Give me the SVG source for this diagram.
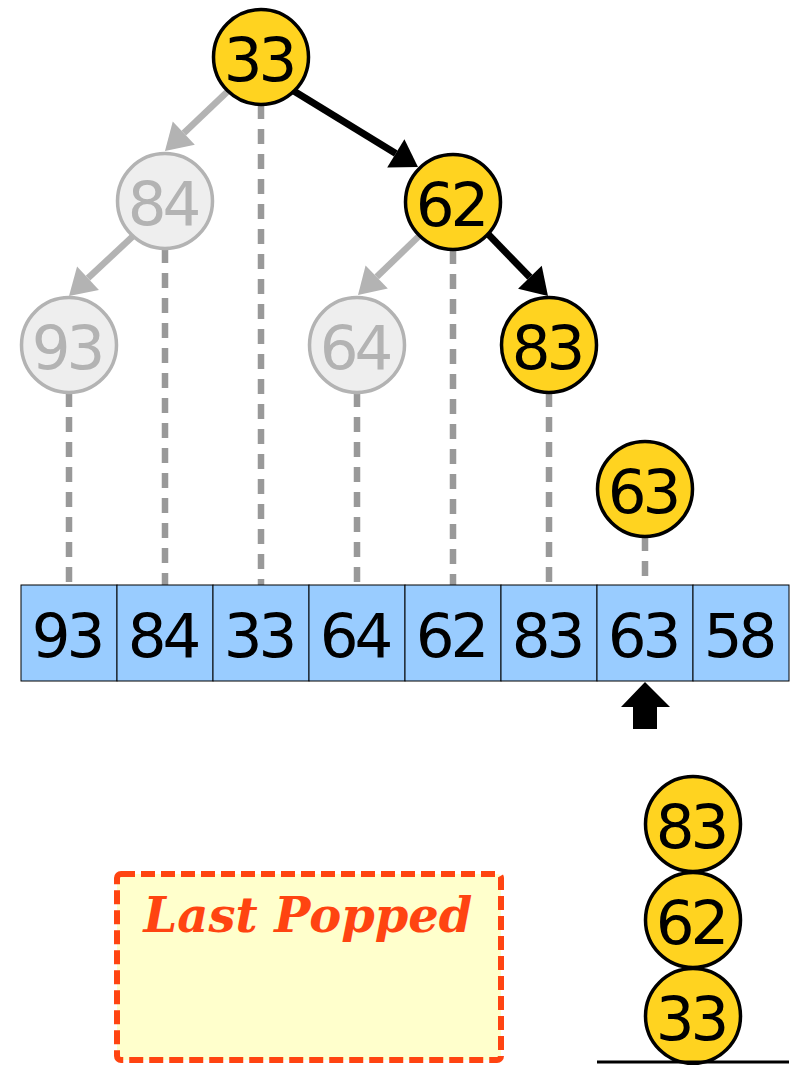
<svg xmlns="http://www.w3.org/2000/svg" width="799" height="1065" viewBox="0 0 799 1065">
<style>
.num{font-family:"DejaVu Sans",Verdana,sans-serif;font-size:61px;text-anchor:middle;letter-spacing:-4px}
.yel circle{fill:#ffd320;stroke:#000;stroke-width:3.5}
.yel text{fill:#000}
.gry circle{fill:#eeeeee;stroke:#b3b3b3;stroke-width:3.5}
.gry text{fill:#b3b3b3}
.cell rect{fill:#99ccff;stroke:#000;stroke-width:1}
.cell text{fill:#000}
.dash{stroke:#999999;stroke-width:6.5;stroke-dasharray:15 10;fill:none}
.ga{stroke:#b3b3b3;stroke-width:6.5;fill:none;marker-end:url(#ahg)}
.ba{stroke:#000;stroke-width:7;fill:none;marker-end:url(#ahb)}
</style>
<defs>
<marker id="ahg" markerUnits="userSpaceOnUse" viewBox="0 -16 26 32" refX="0" refY="0" markerWidth="26" markerHeight="32" orient="auto" overflow="visible">
<path d="M0,-16 L26,0 L0,16 z" fill="#b3b3b3"/>
</marker>
<marker id="ahb" markerUnits="userSpaceOnUse" viewBox="0 -16.5 26 33" refX="0" refY="0" markerWidth="26" markerHeight="33" orient="auto" overflow="visible">
<path d="M0,-16.5 L26,0 L0,16.5 z" fill="#000"/>
</marker>
</defs>
<rect width="799" height="1065" fill="#fff"/>
<g id="connectors">
<line class="dash" x1="69" y1="342" x2="69" y2="600"/>
<line class="dash" x1="165" y1="198" x2="165" y2="600"/>
<line class="dash" x1="261" y1="54" x2="261" y2="600"/>
<line class="dash" x1="357" y1="342" x2="357" y2="600"/>
<line class="dash" x1="453" y1="199" x2="453" y2="600"/>
<line class="dash" x1="549" y1="342" x2="549" y2="600"/>
<line class="dash" x1="645" y1="486" x2="645" y2="600"/>
<line class="ga" x1="230.6" y1="88.6" x2="183.8" y2="133.1"/>
<line class="ga" x1="135.7" y1="233.6" x2="88" y2="278.2"/>
<line class="ga" x1="420.6" y1="234.5" x2="376.7" y2="276.9"/>
<line class="ba" x1="289.7" y1="88.4" x2="395.8" y2="153.4"/>
<line class="ba" x1="484.5" y1="230.4" x2="529.9" y2="277.3"/>
</g>
<g id="array">
<g id="cell0" class="cell"><rect x="21" y="585" width="96" height="96"/><text class="num" x="66.5" y="657">93</text></g>
<g id="cell1" class="cell"><rect x="117" y="585" width="96" height="96"/><text class="num" x="162.5" y="657">84</text></g>
<g id="cell2" class="cell"><rect x="213" y="585" width="96" height="96"/><text class="num" x="258.5" y="657">33</text></g>
<g id="cell3" class="cell"><rect x="309" y="585" width="96" height="96"/><text class="num" x="354.5" y="657">64</text></g>
<g id="cell4" class="cell"><rect x="405" y="585" width="96" height="96"/><text class="num" x="450.5" y="657">62</text></g>
<g id="cell5" class="cell"><rect x="501" y="585" width="96" height="96"/><text class="num" x="546.5" y="657">83</text></g>
<g id="cell6" class="cell"><rect x="597" y="585" width="96" height="96"/><text class="num" x="642.5" y="657">63</text></g>
<g id="cell7" class="cell"><rect x="693" y="585" width="96" height="96"/><text class="num" x="738.5" y="657">58</text></g>
</g>
<g id="n33" class="yel"><circle cx="261" cy="57" r="47.5"/><text class="num" x="258.5" y="81">33</text></g>
<g id="n84" class="gry"><circle cx="165" cy="201" r="47.5"/><text class="num" x="162.5" y="225">84</text></g>
<g id="n62" class="yel"><circle cx="453" cy="202" r="47.5"/><text class="num" x="450.5" y="226">62</text></g>
<g id="n93" class="gry"><circle cx="69" cy="345" r="47.5"/><text class="num" x="66.5" y="369">93</text></g>
<g id="n64" class="gry"><circle cx="357" cy="345" r="47.5"/><text class="num" x="354.5" y="369">64</text></g>
<g id="n83" class="yel"><circle cx="549" cy="345" r="47.5"/><text class="num" x="546.5" y="369">83</text></g>
<g id="n63" class="yel"><circle cx="645" cy="489" r="47.5"/><text class="num" x="642.5" y="513">63</text></g>
<g id="pointer"><polygon points="645,682 670,707 657,707 657,729 633,729 633,707 621,707" fill="#000"/></g>
<g id="last-popped">
<rect x="117" y="874" width="384" height="186" rx="4" fill="#ffffcc" stroke="#ff4411" stroke-width="6" stroke-dasharray="14 6"/>
<text x="308" y="932" font-family="DejaVu Serif,serif" font-weight="bold" font-style="italic" font-size="48" fill="#ff4411" text-anchor="middle">Last Popped</text>
</g>
<g id="stack">
<g id="s83" class="yel"><circle cx="693" cy="824" r="47.5"/><text class="num" x="690.5" y="848">83</text></g>
<g id="s62" class="yel"><circle cx="693" cy="920" r="47.5"/><text class="num" x="690.5" y="944">62</text></g>
<g id="s33" class="yel"><circle cx="693" cy="1016" r="47.5"/><text class="num" x="690.5" y="1040">33</text></g>
<line x1="597" y1="1062" x2="789" y2="1062" stroke="#000" stroke-width="3"/>
</g>
</svg>
